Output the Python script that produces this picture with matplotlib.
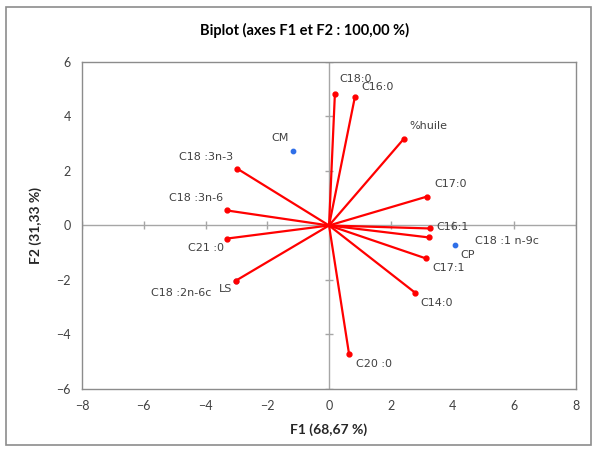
import numpy as np
import matplotlib.pyplot as plt
from matplotlib.patches import Rectangle

# variables (vecteurs rouges)
var_names = ['C18:0', 'C16:0', '%huile', 'C17:0', 'C16:1', 'C18 :1 n-9c', 'C17:1',
             'C14:0', 'C20 :0', 'C18 :3n-3', 'C18 :3n-6', 'C21 :0', 'C18 :2n-6c']
var_f1 = [0.19, 0.84, 2.43, 3.17, 3.27, 3.24, 3.14, 2.78, 0.65, -2.98, -3.30, -3.30, -3.01]
var_f2 = [4.84, 4.73, 3.19, 1.06, -0.11, -0.44, -1.21, -2.46, -4.73, 2.09, 0.55, -0.48, -2.02]

# observations (points bleus)
obs_names = ['CM', 'CP', 'LS']
obs_f1 = [-1.17, 4.08, -3.01]
obs_f2 = [2.75, -0.70, -2.05]

ticks_x = [-8, -6, -4, -2, 0, 2, 4, 6, 8]
ticks_y = [-6, -4, -2, 0, 2, 4, 6]

# decalage des etiquettes en pixels
var_off = [(4, 15, 'left'), (6, 10, 'left'), (5, 13, 'left'), (7, 13, 'left'),
           (6, 1, 'left'), (46, -4, 'left'), (6, -10, 'left'), (6, -10, 'left'),
           (7, -10, 'left'), (-4, 12, 'right'), (-4, 12, 'right'), (-3, -9, 'right'),
           (-25, -12, 'right')]
obs_off = [(-4, 13, 'right'), (5, -10, 'left'), (-4, -8, 'right')]

txt = '#404040'
fig = plt.figure(figsize=(5.97, 4.5), dpi=100)
ax = fig.add_axes([0.1374, 0.1356, 0.8275, 0.7267])

# axes zero avec petites graduations
ax.axhline(0, color='#a6a6a6', lw=1, zorder=1)
ax.axvline(0, color='#a6a6a6', lw=1, zorder=1)
ax.plot(ticks_x, np.zeros(len(ticks_x)), ls='none', marker='|', ms=6, color='#a6a6a6', zorder=1)
ax.plot(np.zeros(len(ticks_y)), ticks_y, ls='none', marker='_', ms=6, color='#a6a6a6', zorder=1)

ax.scatter(obs_f1, obs_f2, s=10, color='#2f6fe8', zorder=2)
for x, y in zip(var_f1, var_f2):
    ax.plot([0, x], [0, y], color='#ff0000', lw=1.6, zorder=3)
    ax.plot(x, y, 'o', color='#ff0000', ms=3.5, zorder=3)

for name, x, y, (dx, dy, ha) in zip(var_names, var_f1, var_f2, var_off):
    ax.annotate(name, (x, y), xytext=(dx, dy), textcoords='offset pixels',
                ha=ha, va='center', fontsize=8, color=txt)
for name, x, y, (dx, dy, ha) in zip(obs_names, obs_f1, obs_f2, obs_off):
    ax.annotate(name, (x, y), xytext=(dx, dy), textcoords='offset pixels',
                ha=ha, va='center', fontsize=8, color=txt)

ax.set_xlim(-8, 8)
ax.set_ylim(-6, 6)
ax.set_xticks(ticks_x)
ax.set_yticks(ticks_y)
ax.tick_params(length=0, labelsize=9, colors=txt, pad=8)
for lab in ax.get_xticklabels() + ax.get_yticklabels():
    lab.set_family('Lato')
for s in ax.spines.values():
    s.set_color('#8c8c8c')
    s.set_linewidth(1)

ax.set_xlabel('F1 (68,67 %)', fontsize=10, fontweight='bold', family='Lato', color='#262626', labelpad=8)
ax.set_ylabel('F2 (31,33 %)', fontsize=10, fontweight='bold', family='Lato', color='#262626', labelpad=10)
fig.text(0.51, 0.933, 'Biplot (axes F1 et F2 : 100,00 %)', ha='center', va='center',
         fontsize=10.5, fontweight='bold', family='Lato', color='#000000')

fig.patches.append(Rectangle((0.01, 0.012), 0.98, 0.972, transform=fig.transFigure,
                             fill=False, edgecolor='#8c8c8c', lw=1.2))

fig.savefig('out.png', dpi=100)
